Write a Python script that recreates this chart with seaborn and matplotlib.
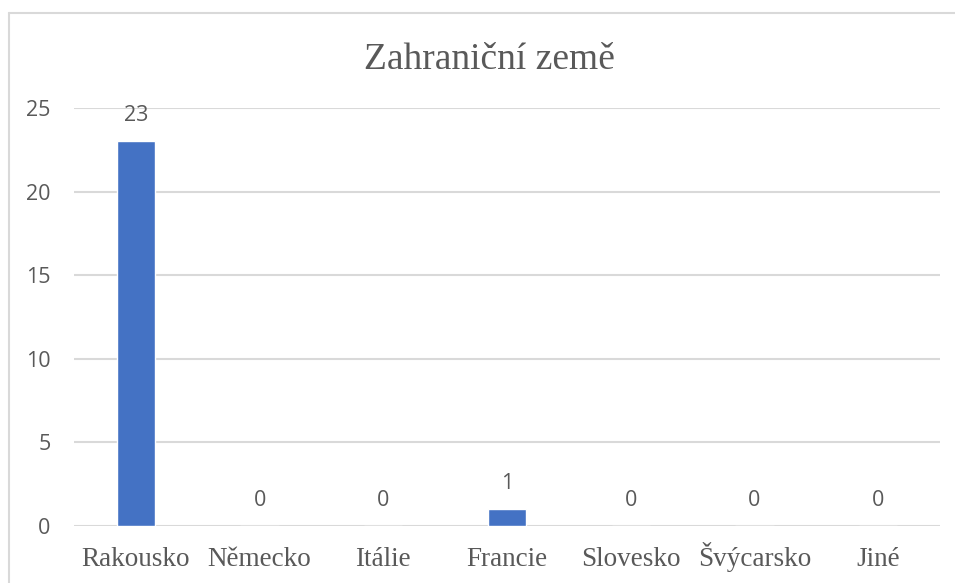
import pandas as pd
import matplotlib.pyplot as plt
import seaborn as sns
from matplotlib.lines import Line2D

# Data
countries = ['Rakousko', 'Německo', 'Itálie', 'Francie', 'Slovesko', 'Švýcarsko', 'Jiné']
counts = [23, 0, 0, 1, 0, 0, 0]
y_ticks = [0, 5, 10, 15, 20, 25]

df = pd.DataFrame({'country': countries, 'count': counts})

sns.set_style('white')
text_color = '#595959'

fig = plt.figure(figsize=(9.55, 5.83), dpi=100)
ax = fig.add_axes([0.0775, 0.0978, 0.9068, 0.717])

sns.barplot(data=df, x='country', y='count', color='#4472C4', width=0.31,
            saturation=1, ax=ax, zorder=3)

ax.set_ylim(0, 25)
ax.set_yticks(y_ticks)
ax.yaxis.grid(True, color='#d9d9d9', linewidth=1.5, zorder=0)
ax.set_axisbelow(True)
for s in ax.spines.values():
    s.set_visible(False)
ax.tick_params(axis='both', length=0)
ax.tick_params(axis='y', pad=17)
ax.tick_params(axis='x', pad=29)
ax.set_xlabel('')
ax.set_ylabel('')

for lab in ax.get_yticklabels():
    lab.set_family('Open Sans')
    lab.set_fontsize(15.5)
    lab.set_color(text_color)
for lab in ax.get_xticklabels():
    lab.set_family('Liberation Serif')
    lab.set_fontsize(19.5)
    lab.set_color(text_color)
    lab.set_verticalalignment('baseline')

# value labels
for container in ax.containers:
    ax.bar_label(container, labels=[str(v) for v in counts], padding=11,
                 fontsize=15.5, family='Open Sans', color=text_color)

fig.text(0.512, 0.898, 'Zahraniční země', ha='center', va='center',
         family='Liberation Serif', fontsize=27, color=text_color)

# chart frame (top and left edges visible)
fig.add_artist(Line2D([9/955, 1], [1 - 13/583, 1 - 13/583], transform=fig.transFigure,
                      color='#d9d9d9', linewidth=1.5))
fig.add_artist(Line2D([9/955, 9/955], [0, 1 - 13/583], transform=fig.transFigure,
                      color='#d9d9d9', linewidth=1.5))

fig.savefig('out.png', dpi=100)
